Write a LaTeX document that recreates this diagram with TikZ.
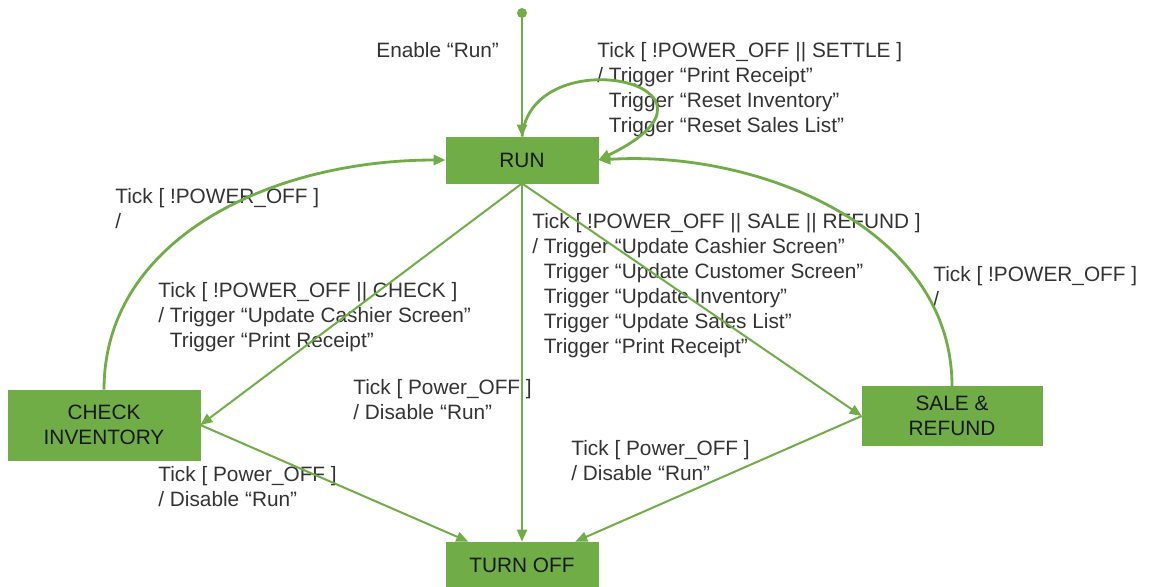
\documentclass[tikz,border=0pt]{standalone}
\usepackage{fontspec}
\setmainfont{Liberation Sans}
\usepackage{tikz}
\usetikzlibrary{arrows.meta}
\definecolor{stgreen}{HTML}{70AD47}
\tikzset{stbox/.style={rectangle, fill=stgreen, draw=stgreen, text=black!90, align=center, inner sep=0pt, minimum width=76pt, minimum height=23pt}}
\tikzset{trlbl/.style={anchor=north west, inner sep=0pt, align=left, text=black!80}}
\tikzset{trans/.style={draw=stgreen, line width=1pt, -{Triangle[length=6pt, width=5pt]}}}
\tikzset{curvtrans/.style={trans, line width=1.4pt}}
\newcommand{\trg}{\hphantom{/ }}

\begin{document}
\begin{tikzpicture}[x=0.5pt, y=-0.5pt, font=\fontsize{10.4pt}{12.5pt}\selectfont]
    \useasboundingbox (0, 0) rectangle (1149, 586);
    % states (pixel coords, y goes down)
    \node[circle, fill=stgreen, inner sep=0pt, minimum size=5pt] (init) at (522, 13) {};
    \node[stbox] (run) at (522, 160) {RUN};
    \node[stbox, minimum width=96pt, minimum height=35pt] (check) at (104, 425) {CHECK\\INVENTORY};
    \node[stbox, minimum width=90pt, minimum height=29.5pt] (sale) at (952, 416) {SALE \&\\REFUND};
    \node[stbox] (off) at (522, 565) {TURN OFF};

    % labels
    \node[trlbl] (lenable) at (376, 42) {Enable “Run”};
    \node[trlbl] (lsettle) at (597, 42) {Tick [ !POWER\_OFF || SETTLE ]\\/ Trigger “Print Receipt”\\\trg Trigger “Reset Inventory”\\\trg Trigger “Reset Sales List”};
    \node[trlbl] (lchkret) at (115, 188) {Tick [ !POWER\_OFF ]\\/};
    \node[trlbl] (lcheck) at (158, 282) {Tick [ !POWER\_OFF || CHECK ]\\/ Trigger “Update Cashier Screen”\\\trg Trigger “Print Receipt”};
    \node[trlbl] (lsale) at (532, 213) {Tick [ !POWER\_OFF || SALE || REFUND ]\\/ Trigger “Update Cashier Screen”\\\trg Trigger “Update Customer Screen”\\\trg Trigger “Update Inventory”\\\trg Trigger “Update Sales List”\\\trg Trigger “Print Receipt”};
    \node[trlbl] (lsaleret) at (933, 266) {Tick [ !POWER\_OFF ]\\/};
    \node[trlbl] (loffrun) at (353, 379) {Tick [ Power\_OFF ]\\/ Disable “Run”};
    \node[trlbl] (loffchk) at (158, 466) {Tick [ Power\_OFF ]\\/ Disable “Run”};
    \node[trlbl] (loffsale) at (571, 440) {Tick [ Power\_OFF ]\\/ Disable “Run”};

    % transitions
    \draw[curvtrans] (run.north) .. controls +(10, -100) and +(155, -75) .. (run.east);
    \draw[curvtrans] (check.north) .. controls +(0, -150) and +(-176, 0) .. (run.west);
    \draw[curvtrans] (sale.north) .. controls +(0, -157) and +(162, -10) .. (run.east);
    \draw
    (init) edge[trans] (run)
    (run.south) edge[trans] (check.east)
    (run.south) edge[trans] (off)
    (run.south) edge[trans] (sale.west)
    (check.east) edge[trans] (off)
    (sale.west) edge[trans] (off);
\end{tikzpicture}
\end{document}
